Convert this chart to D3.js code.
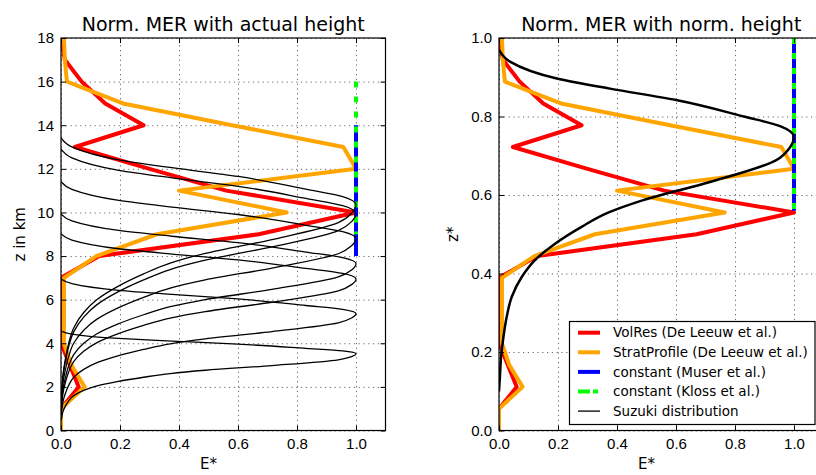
<!DOCTYPE html>
<html>
<head>
<meta charset="utf-8">
<script src="https://cdn.jsdelivr.net/npm/d3@7"></script>
<style>
body { margin: 0; background: #fff; }
svg { display: block; font-family: "DejaVu Sans", sans-serif; }
.grid line { stroke: #000; stroke-width: 0.6; stroke-dasharray: 1.2,3.6; }
.grid path, .ticks path { display: none; }
.ticks line { stroke: #000; stroke-width: 1; }
.ticks text { font-size: 15px; fill: #000; }
</style>
</head>
<body>
<script>
// heights (km) where the emission profiles are given
const heightsKm = [0, 1, 2, 3, 4, 5, 6, 7, 8, 9, 10, 11, 12, 13, 14, 15, 16, 17, 18]
const topKm = 18

// normalised MER at each height
const volRes = [0, 0, 0.06, 0.03, 0, 0, 0, 0, 0.13, 0.67, 1.0, 0.56, 0.30, 0.047, 0.28, 0.15, 0.07, 0.013, 0]
const stratProfile = [0, 0, 0.08, 0.035, 0.01, 0.01, 0.01, 0.01, 0.12, 0.325, 0.765, 0.40, 1.0, 0.957, 0.58, 0.21, 0.02, 0.013, 0.01]

// constant profiles (bottom, top)
const muserKm = [8, 14]
const klossKm = [9, 16]
const constNorm = [0.56, 1.0]
const constE = [1.0, 1.0]

// suzuki shape (z*, E*)
const suzukiZ = [0.10, 0.136, 0.187, 0.238, 0.289, 0.34, 0.391, 0.434, 0.476, 0.519, 0.555, 0.587, 0.633, 0.689, 0.72, 0.748, 0.775, 0.80, 0.842, 0.871, 0.897, 0.94, 0.97]
const suzukiE = [0, 0.003, 0.007, 0.015, 0.026, 0.043, 0.077, 0.122, 0.19, 0.28, 0.37, 0.489, 0.715, 0.94, 0.985, 1.0, 0.955, 0.83, 0.60, 0.376, 0.196, 0.037, 0]
// heights of maximum (km) of the suzuki curves in the left panel
const suzukiPeaksKm = [10.35, 9.95, 8.8, 7.65, 6.95, 5.36, 3.52]

const xTicks = [0, 0.2, 0.4, 0.6, 0.8, 1.0]
const yTicksKm = [0, 2, 4, 6, 8, 10, 12, 14, 16, 18]
const yTicksNorm = [0, 0.2, 0.4, 0.6, 0.8, 1.0]

const legendLabels = ["VolRes (De Leeuw et al.)", "StratProfile (De Leeuw et al.)", "constant (Muser et al.)", "constant (Kloss et al.)", "Suzuki distribution"]

var svgWidth = 816
var svgHeight = 475
var plotTop = 38, plotBottom = 430.5
var gHeight = plotBottom - plotTop
var gWidth = 324.5

var svg = d3.select("body").append("svg")
  .attr("width", svgWidth)
  .attr("height", svgHeight)

var peakZ = suzukiZ[d3.maxIndex(suzukiE)]

function pts(es, zs) {
  return es.map(function(e, i) { return { e: e, z: zs[i] } })
}

function panel(left, yDomain, yTicks, yFmt, title, ylabel, labelX, id) {
  var xScale = d3.scaleLinear().domain([0, 1.1]).range([left, left + gWidth])
  var yScale = d3.scaleLinear().domain(yDomain).range([plotBottom, plotTop])
  var g = svg.append("g")

  svg.append("clipPath").attr("id", id)
    .append("rect").attr("x", left).attr("y", plotTop).attr("width", gWidth).attr("height", gHeight)

  // grid
  g.append("g").attr("class", "grid")
    .attr("transform", "translate(0," + plotBottom + ")")
    .call(d3.axisBottom(xScale).tickValues(xTicks).tickSize(-gHeight).tickFormat(""))
  g.append("g").attr("class", "grid")
    .attr("transform", "translate(" + left + ",0)")
    .call(d3.axisLeft(yScale).tickValues(yTicks).tickSize(-gWidth).tickFormat(""))

  var plot = g.append("g").attr("clip-path", "url(#" + id + ")")

  // ticks (inside, on all four sides)
  g.append("g").attr("class", "ticks")
    .attr("transform", "translate(0," + plotBottom + ")")
    .call(d3.axisBottom(xScale).tickValues(xTicks).tickSizeInner(-5).tickSizeOuter(0).tickPadding(8).tickFormat(d3.format(".1f")))
  g.append("g").attr("class", "ticks")
    .attr("transform", "translate(0," + plotTop + ")")
    .call(d3.axisTop(xScale).tickValues(xTicks).tickSizeInner(-5).tickSizeOuter(0).tickFormat(""))
  g.append("g").attr("class", "ticks")
    .attr("transform", "translate(" + left + ",0)")
    .call(d3.axisLeft(yScale).tickValues(yTicks).tickSizeInner(-5).tickSizeOuter(0).tickPadding(7).tickFormat(yFmt))
  g.append("g").attr("class", "ticks")
    .attr("transform", "translate(" + (left + gWidth) + ",0)")
    .call(d3.axisRight(yScale).tickValues(yTicks).tickSizeInner(-5).tickSizeOuter(0).tickFormat(""))

  g.append("rect")
    .attr("x", left).attr("y", plotTop).attr("width", gWidth).attr("height", gHeight)
    .attr("fill", "none").attr("stroke", "#000").attr("stroke-width", 1.2)

  g.append("text").attr("x", left + gWidth / 2).attr("y", 31)
    .attr("text-anchor", "middle").attr("font-size", "19px").text(title)
  g.append("text").attr("x", left + 147.5).attr("y", 469)
    .attr("text-anchor", "middle").attr("font-size", "15px").text("E*")
  g.append("text")
    .attr("transform", "translate(" + labelX + "," + ((plotTop + plotBottom) / 2) + ") rotate(-90)")
    .attr("text-anchor", "middle").attr("font-size", "15px").text(ylabel)

  return { x: xScale, y: yScale, plot: plot }
}

function addLine(p, data, color, width, dash, curve) {
  var line = d3.line()
    .x(function(d) { return p.x(d.e) })
    .y(function(d) { return p.y(d.z) })
    .curve(curve || d3.curveLinear)
  p.plot.append("path")
    .datum(data)
    .attr("d", line)
    .attr("fill", "none")
    .attr("stroke", color)
    .attr("stroke-width", width)
    .attr("stroke-linejoin", "round")
    .attr("stroke-dasharray", dash)
}

// left panel: actual height
var L = panel(61, [0, 18], yTicksKm, d3.format("d"), "Norm. MER with actual height", "z in km", 25, "clipL")
addLine(L, pts(volRes, heightsKm), "#ff0000", 4, null)
addLine(L, pts(stratProfile, heightsKm), "#ffa500", 4, null)
addLine(L, pts(constE, muserKm), "#0000ff", 4, null)
addLine(L, pts(constE, klossKm).reverse(), "#00ff00", 4, "6,9")
suzukiPeaksKm.forEach(function(pk) {
  var zs = suzukiZ.map(function(z) { return z * pk / peakZ })
  addLine(L, pts(suzukiE, zs).reverse(), "#000", 1.3, null, d3.curveMonotoneY)
})

// right panel: normalised height
var R = panel(499, [0, 1], yTicksNorm, d3.format(".1f"), "Norm. MER with norm. height", "z*", 458, "clipR")
var normHeights = heightsKm.map(function(z) { return z / topKm })
addLine(R, pts(volRes, normHeights), "#ff0000", 4, null)
addLine(R, pts(stratProfile, normHeights), "#ffa500", 4, null)
addLine(R, pts(constE, constNorm), "#0000ff", 4, null)
addLine(R, pts(constE, constNorm).reverse(), "#00ff00", 4, "6,9")
addLine(R, pts(suzukiE, suzukiZ).reverse(), "#000", 2.5, null, d3.curveMonotoneY)

// legend
var legendStyles = [
  { color: "#ff0000", width: 4, dash: null },
  { color: "#ffa500", width: 4, dash: null },
  { color: "#0000ff", width: 4, dash: null },
  { color: "#00ff00", width: 4, dash: "12,3,5,20" },
  { color: "#000", width: 1.3, dash: null }
]
var legend = svg.append("g")
legend.append("rect")
  .attr("x", 569.5).attr("y", 321.5).attr("width", 245.5).attr("height", 103)
  .attr("fill", "#fff").attr("stroke", "#000").attr("stroke-width", 1.2)
var rows = legend.selectAll(".row").data(legendLabels).enter().append("g")
  .attr("transform", function(d, i) { return "translate(0," + (332.7 + i * 19.6) + ")" })
rows.append("line")
  .attr("x1", 578).attr("x2", 600)
  .attr("stroke", function(d, i) { return legendStyles[i].color })
  .attr("stroke-width", function(d, i) { return legendStyles[i].width })
  .attr("stroke-dasharray", function(d, i) { return legendStyles[i].dash })
rows.append("text")
  .attr("x", 613).attr("dy", "0.35em")
  .attr("font-size", "13.5px")
  .text(function(d) { return d })
</script>
</body>
</html>
